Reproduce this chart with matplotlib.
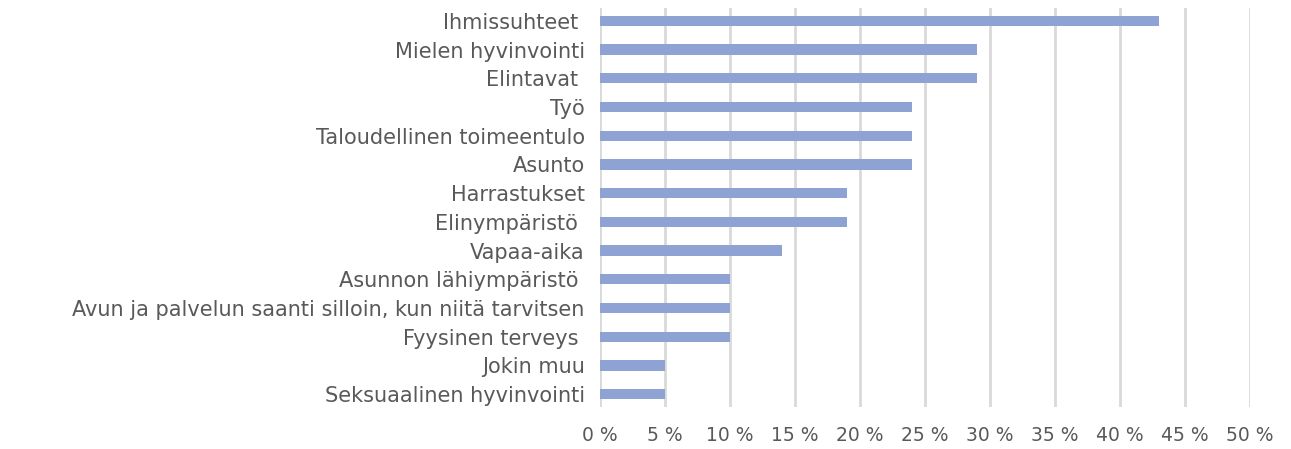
import numpy as np
import matplotlib.pyplot as plt
from matplotlib.ticker import FuncFormatter

categories = ["Ihmissuhteet ", "Mielen hyvinvointi", "Elintavat ", "Työ",
              "Taloudellinen toimeentulo", "Asunto", "Harrastukset",
              "Elinympäristö ", "Vapaa-aika", "Asunnon lähiympäristö ",
              "Avun ja palvelun saanti silloin, kun niitä tarvitsen",
              "Fyysinen terveys ", "Jokin muu", "Seksuaalinen hyvinvointi"]
values = [43, 29, 29, 24, 24, 24, 19, 19, 14, 10, 10, 10, 5, 5]
xticks = [0, 5, 10, 15, 20, 25, 30, 35, 40, 45, 50]

plt.rcParams['font.family'] = ['DejaVu Sans']
grey = '#595959'

fig = plt.figure(figsize=(12.91, 4.49), dpi=100)
ax = fig.add_axes([600/1291, 1-407/449, 650/1291, 399/449])

y = np.arange(len(categories))
ax.barh(y, values, height=0.36, color='#8FA2D4', zorder=3)

ax.set_xlim(0, 50)
ax.set_ylim(len(categories)-0.55, -0.45)
ax.set_xticks(xticks)
ax.xaxis.set_major_formatter(FuncFormatter(lambda v, p: f"{int(v)} %"))
ax.set_yticks(y)
ax.set_yticklabels(categories)
ax.grid(axis='x', color='#D9D9D9', linewidth=2, zorder=0)
for s in ax.spines.values():
    s.set_visible(False)
ax.tick_params(axis='both', length=0, colors=grey)
ax.tick_params(axis='y', pad=11, labelsize=15)
ax.tick_params(axis='x', pad=14, labelsize=13.5)

plt.savefig("out.png", dpi=100)
